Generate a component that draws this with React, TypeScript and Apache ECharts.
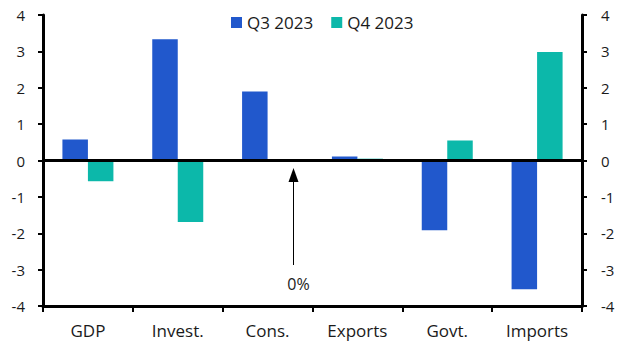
import React, { useEffect, useRef } from "react";
import * as echarts from "echarts";

const categories = ["GDP", "Invest.", "Cons.", "Exports", "Govt.", "Imports"];
const q3Values = [0.58, 3.33, 1.9, 0.11, -1.92, -3.54];
const q4Values = [-0.57, -1.69, 0, 0.05, 0.55, 2.98];
const seriesNames = ["Q3 2023", "Q4 2023"];
const annotationText = "0%";

const FONT = "'Open Sans', 'Noto Sans', sans-serif";

export default function App() {
  const ref = useRef<HTMLDivElement>(null);
  useEffect(() => {
    if (!ref.current) return;
    const chart = echarts.init(ref.current, undefined, { renderer: "svg" });
    const yAxisCommon = {
      type: "value",
      min: -4,
      max: 4,
      interval: 1,
      axisLine: { show: true, lineStyle: { color: "#000", width: 3 } },
      axisTick: { show: true, length: 5, lineStyle: { color: "#000", width: 2 } },
      axisLabel: { color: "#1a1a1a", fontSize: 15, fontFamily: FONT, margin: 18 },
      splitLine: { show: false },
    };
    chart.setOption({
      animation: false,
      grid: { left: 43, right: 50, top: 15, bottom: 51, containLabel: false },
      legend: {
        data: seriesNames,
        left: 226,
        top: 9,
        itemWidth: 11,
        itemHeight: 11,
        itemGap: 18,
        icon: "rect",
        textStyle: { color: "#1a1a1a", fontSize: 17, fontFamily: FONT },
      },
      xAxis: {
        type: "category",
        data: categories,
        axisLine: { onZero: false, lineStyle: { color: "#000", width: 3 } },
        axisTick: { show: true, length: 6, lineStyle: { color: "#000", width: 2 } },
        axisLabel: { color: "#1a1a1a", fontSize: 17, fontFamily: FONT, margin: 16 },
      },
      yAxis: [
        { ...yAxisCommon, position: "left" },
        { ...yAxisCommon, position: "right", axisLabel: { ...yAxisCommon.axisLabel, margin: 19 } },
      ],
      series: [
        {
          name: seriesNames[0],
          type: "bar",
          data: q3Values,
          barWidth: 25.5,
          barGap: "0%",
          itemStyle: { color: "#2158CC" },
          markLine: {
            silent: true,
            symbol: "none",
            label: { show: false },
            lineStyle: { color: "#000", width: 3, type: "solid" },
            data: [{ yAxis: 0 }],
          },
        },
        {
          name: seriesNames[1],
          type: "bar",
          data: q4Values,
          barWidth: 25.5,
          barGap: "0%",
          itemStyle: { color: "#0CB8AA" },
        },
      ],
      graphic: [
        {
          type: "line",
          shape: { x1: 293.5, y1: 265, x2: 293.5, y2: 180 },
          style: { stroke: "#000", lineWidth: 1 },
        },
        {
          type: "polygon",
          shape: { points: [[293.5, 168], [288.5, 182], [298.5, 182]] },
          style: { fill: "#000" },
        },
        {
          type: "text",
          x: 298.5,
          y: 284,
          style: {
            text: annotationText,
            fill: "#1a1a1a",
            font: `16px ${FONT}`,
            textAlign: "center",
            textVerticalAlign: "middle",
          },
        },
      ],
    });
    return () => chart.dispose();
  }, []);
  return <div ref={ref} style={{ width: 632, height: 357, position: "absolute", left: 0, top: 0 }} />;
}
